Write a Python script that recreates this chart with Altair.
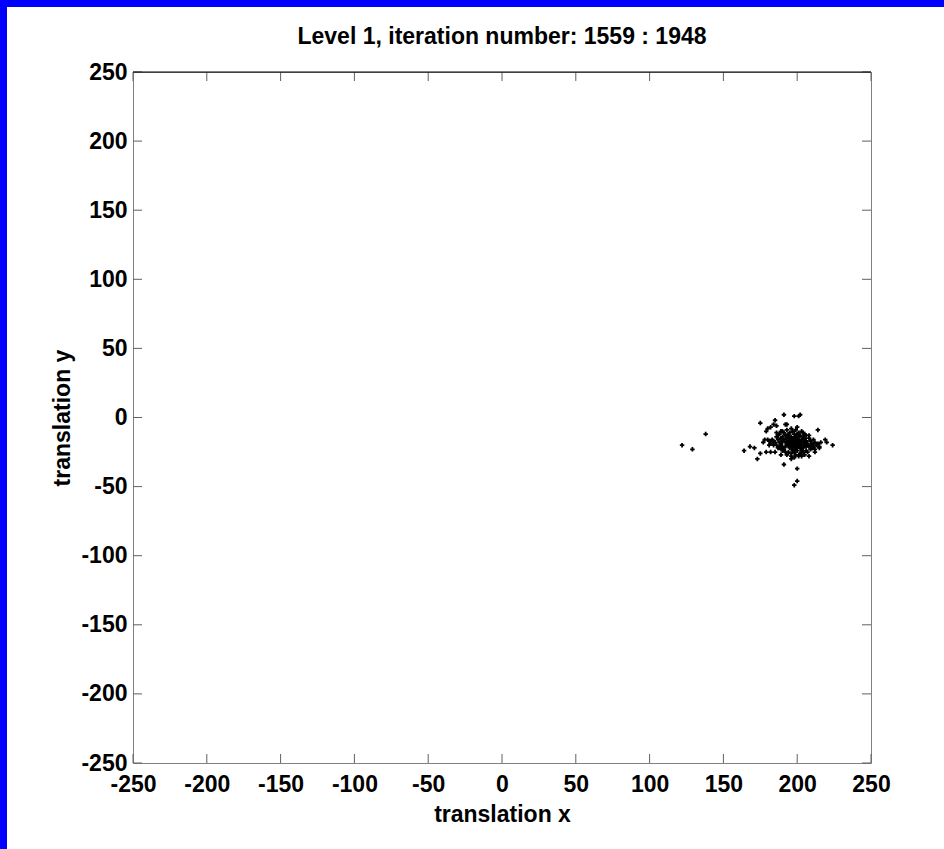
import altair as alt
import pandas as pd

TITLE = "Level 1, iteration number: 1559 : 1948"
X_LABEL = "translation x"
Y_LABEL = "translation y"
tick_values = [-250, -200, -150, -100, -50, 0, 50, 100, 150, 200, 250]

# scattered outer points
outer_x = [122, 129, 138, 164, 168, 171, 173, 175, 175, 179, 180, 182, 185, 184, 186,
           191, 193, 198, 201, 202, 200, 186, 190, 214, 219, 220, 224, 191, 200, 200,
           198, 179, 182, 185, 189, 196, 177, 181, 184, 178, 180, 183, 192, 189, 188,
           208, 202, 212, 215, 210]
outer_y = [-20, -23, -12, -24, -21, -22, -30, -26, -4, -10, -8, -7, -2, -5, -6,
           2, -5, 1, 1, 2, -7, -11, -10, -9, -16, -18, -20, -34, -37, -46,
           -49, -25, -25, -25, -27, -30, -18, -17, -17, -16, -16, -16, -5, -10, -22,
           -28, -27, -25, -22, -20]
# dense core
core_x = [188, 190, 191, 192, 193, 194, 195, 196, 197, 198,
          199, 200, 201, 202, 203, 204, 205, 206, 207, 208,
          189, 190, 191, 192, 193, 194, 195, 196, 197, 198,
          199, 200, 201, 202, 203, 204, 205, 206, 207, 209,
          210, 211, 212, 187, 188, 189, 190, 186, 187, 194,
          196, 198, 200, 202, 204, 206, 199, 201, 197, 199,
          201, 203, 195, 205, 208, 193, 196, 200, 202, 197,
          198, 199, 200, 201, 198, 199, 200, 201, 202, 197,
          196, 198, 200, 203, 195, 194, 193, 192, 204, 205,
          206, 203, 197, 199, 201, 195, 196, 202, 197, 200,
          185, 184, 186, 209, 211, 213, 207, 208, 192, 190,
          189, 191, 194, 204, 206, 210, 212, 214, 215, 216,
          198, 203, 205, 196, 193, 188, 187, 183, 182, 181]
core_y = [-12, -14, -16, -18, -20, -13, -15, -17, -19, -21,
          -23, -14, -16, -18, -20, -22, -15, -17, -19, -21,
          -19, -21, -23, -13, -15, -17, -19, -21, -23, -12,
          -14, -16, -18, -20, -22, -14, -16, -18, -20, -17,
          -19, -21, -18, -16, -18, -15, -17, -20, -22, -25,
          -26, -25, -24, -26, -25, -24, -27, -28, -10, -9,
          -11, -10, -11, -12, -13, -9, -8, -12, -13, -15,
          -17, -19, -20, -21, -19, -16, -18, -19, -17, -18,
          -19, -15, -22, -16, -22, -20, -18, -21, -18, -20,
          -21, -24, -24, -21, -14, -17, -14, -22, -21, -17,
          -18, -20, -14, -23, -16, -20, -25, -15, -25, -24,
          -22, -11, -12, -11, -13, -22, -23, -19, -21, -18,
          -29, -28, -27, -28, -27, -21, -13, -17, -19, -20]

W, H = 738, 691
PAD = {"left": 133, "top": 72, "right": 73, "bottom": 86}
FONT = "Liberation Sans"
FS = 23

pts = pd.DataFrame({"x": outer_x + core_x, "y": outer_y + core_y})
ticks = pd.DataFrame({"x": tick_values, "y": tick_values})
one = pd.DataFrame({"a": [0]})

xs = alt.Scale(domain=[-250, 250], nice=False, zero=False)
ys = alt.Scale(domain=[-250, 250], nice=False, zero=False)

x_axis = alt.Axis(
    values=tick_values, title=X_LABEL, labelFlush=False, labelOverlap=False,
    labelExpr="'' + datum.value",
    labelPadding=10, titleX=W / 2, titleY=51, titleBaseline="middle",
    titleAlign="center")
y_axis = alt.Axis(
    values=tick_values, title=Y_LABEL, labelFlush=False, labelOverlap=False,
    labelExpr="'' + datum.value",
    labelPadding=6, titleX=-71, titleY=H / 2, titleAngle=-90,
    titleBaseline="middle", titleAlign="center")

points = alt.Chart(pts).mark_point(
    shape="cross", filled=True, size=20, color="black", opacity=1
).encode(
    x=alt.X("x:Q", scale=xs, axis=x_axis),
    y=alt.Y("y:Q", scale=ys, axis=y_axis),
)

tick_color = "#606060"
bottom_ticks = alt.Chart(ticks).mark_rule(color=tick_color).encode(
    x=alt.X("x:Q", scale=xs, axis=x_axis), y=alt.value(H), y2=alt.value(H - 9))
top_ticks = alt.Chart(ticks).mark_rule(color=tick_color).encode(
    x=alt.X("x:Q", scale=xs, axis=x_axis), y=alt.value(0), y2=alt.value(9))
left_ticks = alt.Chart(ticks).mark_rule(color=tick_color).encode(
    y=alt.Y("y:Q", scale=ys, axis=y_axis), x=alt.value(0), x2=alt.value(9))
right_ticks = alt.Chart(ticks).mark_rule(color=tick_color).encode(
    y=alt.Y("y:Q", scale=ys, axis=y_axis), x=alt.value(W), x2=alt.value(W - 9))

top_line = alt.Chart(one).mark_rule(color="black", strokeWidth=1).encode(
    x=alt.value(0), x2=alt.value(W), y=alt.value(0))

blue_top = alt.Chart(one).mark_rect(color="#0000ff").encode(
    x=alt.value(-PAD["left"]), x2=alt.value(W + PAD["right"]),
    y=alt.value(-PAD["top"]), y2=alt.value(-PAD["top"] + 7))
blue_left = alt.Chart(one).mark_rect(color="#0000ff").encode(
    x=alt.value(-PAD["left"]), x2=alt.value(-PAD["left"] + 7),
    y=alt.value(-PAD["top"]), y2=alt.value(H + PAD["bottom"]))

title_mark = alt.Chart(one).mark_text(
    text=TITLE, font=FONT, fontSize=FS, fontWeight="bold", color="black",
    align="center", baseline="middle"
).encode(x=alt.value(W / 2), y=alt.value(-35))

chart = alt.layer(
    points, bottom_ticks, top_ticks, left_ticks, right_ticks, top_line,
    blue_top, blue_left, title_mark
).properties(
    width=W, height=H,
    autosize="none", padding=PAD,
).configure(
    background="white",
).configure_view(
    stroke="#808080", strokeWidth=1,
).configure_axis(
    domain=False, ticks=False, grid=False,
    labelFont=FONT, labelFontSize=FS, labelFontWeight="bold", labelColor="black",
    titleFont=FONT, titleFontSize=FS, titleFontWeight="bold", titleColor="black",
)

chart.save("out.html", embed_options={"renderer": "svg", "actions": False})
